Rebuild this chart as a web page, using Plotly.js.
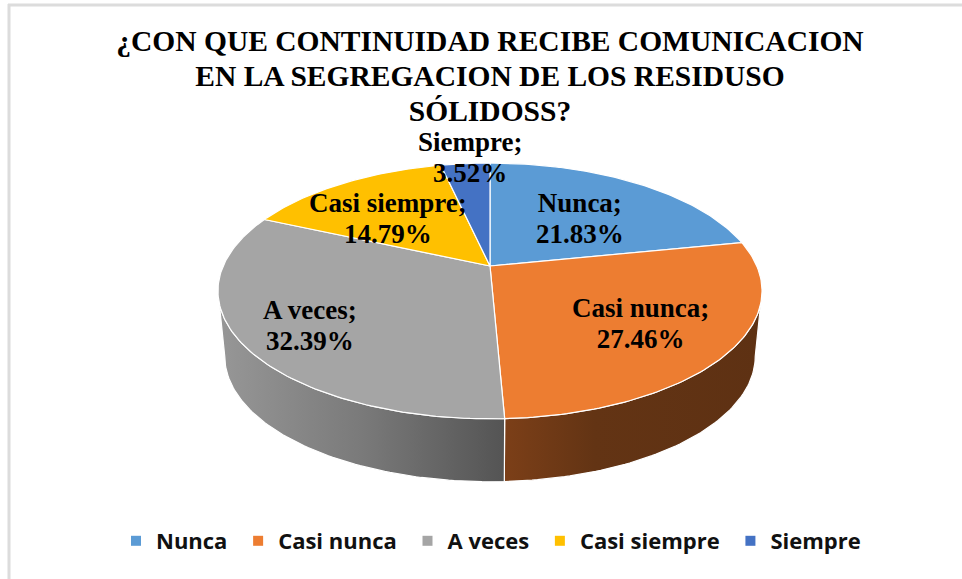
<!DOCTYPE html>
<html><head><meta charset="utf-8">
<script src="https://cdn.plot.ly/plotly-3.0.1.min.js"></script>
<style>html,body{margin:0;padding:0;background:#fff}#c{width:962px;height:579px}</style>
</head><body><div id="c"></div>
<script>
const categories = ["Nunca", "Casi nunca", "A veces", "Casi siempre", "Siempre"];
const percentages = [21.83, 27.46, 32.39, 14.79, 3.52];
const colors = ["#5B9BD5", "#ED7D31", "#A5A5A5", "#FFC000", "#4472C4"];
const titleLines = ["¿CON QUE CONTINUIDAD RECIBE COMUNICACION", "EN LA SEGREGACION DE LOS RESIDUSO", "SÓLIDOSS?"];
const labelX = [580, 640, 310, 388, 470];
const labelY = [220, 325, 327, 220, 159];

const serif = "Liberation Serif, serif";
const sans = "Open Sans, Noto Sans, sans-serif";

// perspective projection of the pie disc on to the page
const cx = 490, cy = 266, a = 266.8, b = 123, k = 0.195;
function rim(deg) {
  const t = deg * Math.PI / 180, u = Math.sin(t), v = Math.cos(t), w = 1 + k * v;
  return [cx + a * u / w, cy - b * v / w];
}
function lowerRim(deg) {
  const p = rim(deg);
  return [cx + (p[0] - cx) * 0.975, cy + (p[1] - cy) * 0.98 + 66];
}
function arc(from, to, fn) {
  const pts = [], n = Math.max(2, Math.ceil(Math.abs(to - from)));
  for (let i = 0; i <= n; i++) pts.push(fn(from + (to - from) * i / n));
  return pts;
}
const total = percentages.reduce((s, v) => s + v, 0);
const bounds = [0];
percentages.forEach(v => bounds.push(bounds[bounds.length - 1] + v / total * 360));
const sideRight = Math.acos(-k) * 180 / Math.PI, sideLeft = 360 - sideRight;

const traces = [];
// visible outer wall of the slices
function wall(i, scale) {
  const from = Math.max(bounds[i], sideRight), to = Math.min(bounds[i + 1], sideLeft);
  const pts = arc(from, to, rim).concat(arc(to, from, lowerRim));
  pts.push(pts[0]);
  traces.push({
    x: pts.map(p => p[0]), y: pts.map(p => p[1]), mode: "lines", fill: "toself",
    line: {color: "#ffffff", width: 1.2}, fillcolor: scale[scale.length - 1][1],
    fillgradient: {type: "horizontal", colorscale: scale},
    hoverinfo: "skip", showlegend: false
  });
}
wall(1, [[0, "#7c3f18"], [0.35, "#633414"], [1, "#5e3113"]]);
wall(2, [[0, "#979797"], [0.5, "#7a7a7a"], [1, "#545454"]]);

// top face of the slices
percentages.forEach((v, i) => {
  const pts = [[cx, cy]].concat(arc(bounds[i], bounds[i + 1], rim));
  pts.push([cx, cy]);
  traces.push({
    x: pts.map(p => p[0]), y: pts.map(p => p[1]), mode: "lines", fill: "toself",
    line: {color: "#ffffff", width: 1.2}, fillcolor: colors[i],
    name: categories[i], hoverinfo: "name", showlegend: false
  });
});
// legend entries
categories.forEach((c, i) => traces.push({
  x: [null], y: [null], mode: "markers", name: c + "\u00a0",
  marker: {symbol: "square", size: 10, color: colors[i]}, showlegend: true, hoverinfo: "skip"
}));

const annotations = categories.map((c, i) => ({
  x: labelX[i], y: labelY[i], xref: "x", yref: "y", showarrow: false,
  text: "<b>" + c + ";</b><br><b>" + percentages[i].toFixed(2) + "%</b>",
  font: {family: serif, size: 27, color: "#000"}, align: "center",
  xanchor: "center", yanchor: "middle"
}));

const layout = {
  width: 962, height: 579, autosize: false,
  margin: {l: 0, r: 0, t: 0, b: 0},
  paper_bgcolor: "#ffffff", plot_bgcolor: "#ffffff",
  title: {
    text: titleLines.map(t => "<b>" + t + "</b>").join("<br>"),
    font: {family: serif, size: 29.5, color: "#000"},
    x: 490 / 962, xanchor: "center", y: 1 - 51 / 579, yanchor: "middle", yref: "container"
  },
  xaxis: {range: [0, 962], visible: false, fixedrange: true},
  yaxis: {range: [579, 0], visible: false, fixedrange: true},
  showlegend: true,
  legend: {
    orientation: "h", x: 116 / 962, xanchor: "left", y: 1 - 541 / 579, yanchor: "middle",
    font: {family: sans, size: 22, weight: 700, color: "#111"}, bgcolor: "rgba(0,0,0,0)"
  },
  annotations: annotations,
  shapes: [
    {type: "line", xref: "x", yref: "y", x0: 8, x1: 962, y0: 5, y1: 5, line: {color: "#dcdcdc", width: 3}},
    {type: "line", xref: "x", yref: "y", x0: 9, x1: 9, y0: 4, y1: 579, line: {color: "#dcdcdc", width: 3}}
  ]
};
Plotly.newPlot("c", traces, layout, {displayModeBar: false, staticPlot: true}).then(gd => {
  // tighter line spacing, as in the reference (each line's dy is measured from the first line)
  gd.querySelectorAll(".gtitle tspan.line").forEach((t, i) => { if (i) t.setAttribute("dy", (i * 35) + "px"); });
  gd.querySelectorAll(".annotation-text tspan.line").forEach(t => {
    if (t.getAttribute("dy") && parseFloat(t.getAttribute("dy")) !== 0) t.setAttribute("dy", "31px");
  });
});
</script></body></html>
